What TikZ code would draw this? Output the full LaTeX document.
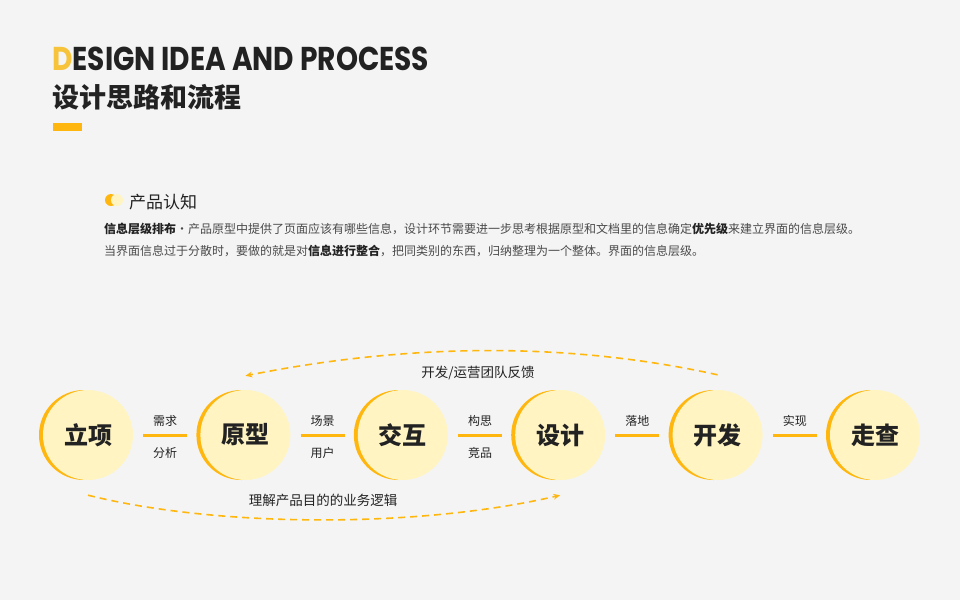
\documentclass[tikz,border=0pt]{standalone}
\usepackage{fontspec}
\setmainfont{Noto Sans CJK SC}
\newfontfamily\headfont{Poppins}
\usetikzlibrary{arrows.meta,positioning,calc}
\definecolor{paper}{HTML}{F4F4F4}
\definecolor{gold}{HTML}{FFB70F}
\definecolor{cream}{HTML}{FFF4C2}
\definecolor{lemon}{HTML}{F6C33A}
\definecolor{ink}{HTML}{222222}
\definecolor{slate}{HTML}{4A4A4A}
\tikzset{
  >={Stealth[length=2.4mm,width=2mm]},
  stage/.style={circle,fill=cream,minimum size=90pt,inner sep=0pt,text=ink,
    font=\fontsize{24}{24}\selectfont\bfseries},
  link/.style={draw=gold,line width=3pt},
  note/.style={font=\fontsize{12}{12}\selectfont,text=ink,inner sep=0pt},
  remark/.style={font=\fontsize{13.5}{14}\selectfont,text=ink,inner sep=0pt},
  backflow/.style={->,draw=gold,line width=1.6pt,dash pattern=on 7pt off 5pt},
  body/.style={anchor=west,inner sep=0pt,font=\fontsize{12}{12}\selectfont,text=slate},
}

\begin{document}
\begin{tikzpicture}[x=1pt,y=-1pt]
  \fill[paper] (0,0) rectangle (960,600);
  \useasboundingbox (0,0) rectangle (960,600);
  % heading
  \node[anchor=base west,inner sep=0pt,text=ink,
    font=\headfont\fontsize{33}{33}\selectfont\bfseries] (title) at (52,70)
    {\scalebox{0.85}[1]{\textcolor{lemon}{D}ESIGN IDEA AND PROCESS}};
  \node[anchor=west,inner sep=0pt,text=ink,font=\fontsize{27}{27}\selectfont\bfseries]
    (subtitle) at (52,97) {设计思路和流程};
  \fill[gold] (53,123) rectangle (82,131);
  % section
  \fill[gold] (111,200) circle (6pt);
  \fill[cream] (117,200) circle (6pt);
  \node[anchor=west,inner sep=0pt,text=ink,font=\fontsize{17}{17}\selectfont] (sec) at (129,202) {产品认知};
  \node[body] (line1) at (104,229) {\textcolor{ink}{\bfseries 信息层级排布}·产品原型中提供了页面应该有哪些信息，设计环节需要进一步思考根据原型和文档里的信息确定\textcolor{ink}{\bfseries 优先级}来建立界面的信息层级。};
  \node[body] (line2) at (104,251) {当界面信息过于分散时，要做的就是对\textcolor{ink}{\bfseries 信息进行整合}，把同类别的东西，归纳整理为一个整体。界面的信息层级。};
  % stages
  \foreach \t [count=\i] in {立项,原型,交互,设计,开发,走查}{
    \fill[gold] (88+157.4*\i-157.4-4,435) circle (45pt);
    \node[stage] (s\i) at (88+157.4*\i-157.4,435) {\t};
  }
  \foreach \a/\b/\u in {1/2/需求,2/3/场景,3/4/构思,4/5/落地,5/6/实现}
    \draw[link] ([xshift=10pt]s\a.east) -- coordinate (m\a) node[note,yshift=14pt] (up\a) {\u} ([xshift=-13pt]s\b.west);
  \foreach \a/\d in {1/分析,2/用户,3/竞品}
    \node[note,yshift=-18pt] (dn\a) at (m\a) {\d};
  % feedback loops
  \coordinate (fbA) at ([yshift=15pt]s5.north);
  \coordinate (fbB) at ([yshift=14pt]s2.north);
  \draw[backflow] (fbA) .. controls (560,340) and (400,345) .. (fbB);
  \node[remark] (fbT) at (478,373) {开发/运营团队反馈};
  \coordinate (bzA) at ([yshift=-15pt]s1.south);
  \coordinate (bzB) at ([yshift=-15pt]s4.south);
  \draw[backflow] (bzA) .. controls (220,528) and (420,528) .. (bzB);
  \node[remark] (bzT) at (323,500) {理解产品目的的业务逻辑};
\end{tikzpicture}
\end{document}
